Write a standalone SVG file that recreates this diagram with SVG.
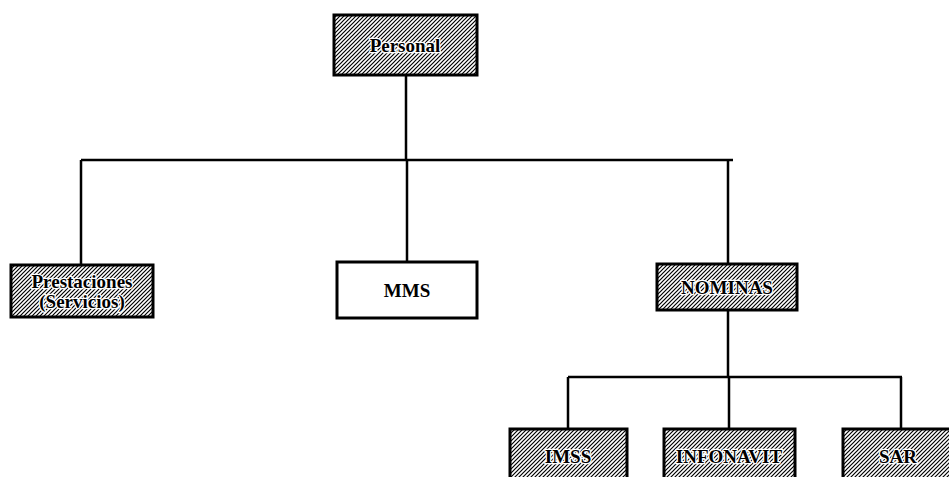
<svg xmlns="http://www.w3.org/2000/svg" width="949" height="477" viewBox="0 0 949 477">
<defs>
<pattern id="hatch" width="4" height="4" patternUnits="userSpaceOnUse">
<rect width="4" height="4" fill="#ffffff"/>
<path d="M-1,1 L1,-1 M0,4 L4,0 M3,5 L5,3" stroke="#000" stroke-width="1.2"/>
</pattern>
</defs>
<style>
.hb{fill:url(#hatch);stroke:#000;stroke-width:3}
.wb{fill:#fff;stroke:#000;stroke-width:3}
.t{font-family:"Liberation Serif",serif;font-size:19px;font-weight:bold;fill:#000;text-anchor:middle}
.h{stroke:#fff;stroke-width:2.5;paint-order:stroke;stroke-linejoin:round}
.c{stroke:#000;stroke-width:2.5;fill:none}
</style>
<rect width="949" height="477" fill="#fff"/>
<g id="connectors">
<path class="c" d="M406,75 V160 M81,160 H733 M81,160 V265 M407,160 V262 M728,160 V264 M728,310 V377 M568,377 H902 M568,377 V429 M729,377 V429 M901,377 V429"/>
</g>
<g id="personal"><rect class="hb" x="334" y="15" width="143" height="60"/><text class="t h" x="405" y="52">Personal</text></g>
<g id="prestaciones"><rect class="hb" x="11" y="265" width="142" height="52"/><text class="t h" x="82" y="288" font-size="16">Prestaciones</text><text class="t h" x="82" y="308" font-size="16">(Servicios)</text></g>
<g id="mms"><rect class="wb" x="337" y="262" width="140" height="56"/><text class="t" x="407" y="297" font-size="20">MMS</text></g>
<g id="nominas"><rect class="hb" x="657" y="264" width="140" height="46"/><text class="t h" x="727" y="294">NOMINAS</text></g>
<g id="imss"><rect class="hb" x="510" y="429" width="117" height="52"/><text class="t h" x="568" y="463">IMSS</text></g>
<g id="infonavit"><rect class="hb" x="664" y="429" width="131" height="52"/><text class="t h" x="729" y="463">INFONAVIT</text></g>
<g id="sar"><rect class="hb" x="843" y="429" width="110" height="52"/><text class="t h" x="898" y="463">SAR</text></g>
</svg>
